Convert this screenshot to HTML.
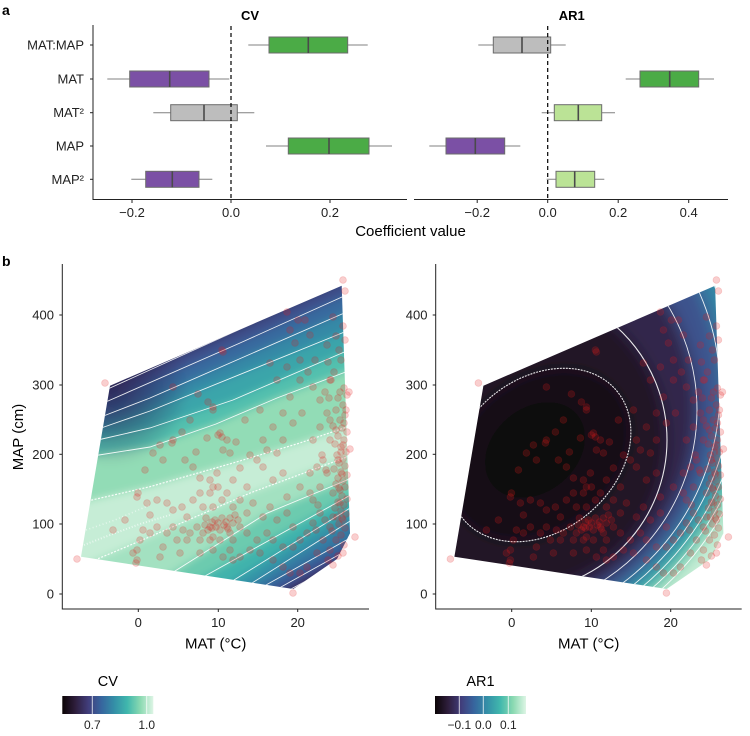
<!DOCTYPE html>
<html><head><meta charset="utf-8">
<style>
html,body{margin:0;padding:0;background:#fff}
svg{display:block}
text{font-family:"Liberation Sans",Arial,sans-serif}
</style></head>
<body>
<svg width="750" height="736" viewBox="0 0 750 736" xmlns="http://www.w3.org/2000/svg" xmlns:xlink="http://www.w3.org/1999/xlink">
<defs>
  <linearGradient id="mako" x1="0" y1="0" x2="1" y2="0">
    <stop offset="0" stop-color="#0B0405"/>
    <stop offset=".1429" stop-color="#2E1E3C"/>
    <stop offset=".2857" stop-color="#413D7B"/>
    <stop offset=".4286" stop-color="#37659E"/>
    <stop offset=".5714" stop-color="#348FA7"/>
    <stop offset=".7143" stop-color="#40B7AD"/>
    <stop offset=".8571" stop-color="#8AD9B1"/>
    <stop offset="1" stop-color="#DEF5E5"/>
  </linearGradient>
  <radialGradient id="tl" cx="110" cy="386" r="80" gradientUnits="userSpaceOnUse">
    <stop offset="0" stop-color="#2a2250" stop-opacity=".8"/>
    <stop offset="1" stop-color="#2a2250" stop-opacity="0"/>
  </radialGradient>
  <clipPath id="cvclip"><polygon points="110,385.7 341.7,285.7 350,533.3 337,559 305,581 293.3,589 81,556.7"/></clipPath>
  <clipPath id="arclip"><polygon points="483.4,385.7 715.1,285.7 723.4,533.3 710.4,559 678.4,581 666.7,589 454.4,556.7"/></clipPath>
  <filter id="bl" x="-10%" y="-10%" width="120%" height="120%"><feGaussianBlur stdDeviation="4"/></filter>
  <filter id="bl2" x="-10%" y="-10%" width="120%" height="120%"><feGaussianBlur stdDeviation="7.5"/></filter>
</defs>
<rect width="750" height="736" fill="#fff"/>

<!-- ===== Panel a ===== -->
<text x="2" y="15" font-size="14" font-weight="bold">a</text>
<text x="250" y="20" font-size="13" font-weight="bold" text-anchor="middle">CV</text>
<text x="571.7" y="20" font-size="13" font-weight="bold" text-anchor="middle">AR1</text>

<g font-size="13" fill="#222" text-anchor="end">
  <text x="84" y="49.5">MAT:MAP</text>
  <text x="84" y="83.5">MAT</text>
  <text x="84" y="117">MAT²</text>
  <text x="84" y="150.5">MAP</text>
  <text x="84" y="184">MAP²</text>
</g>
<g stroke="#222" stroke-width="1">
  <line x1="93" y1="25" x2="93" y2="200"/>
  <line x1="93" y1="199.5" x2="407" y2="199.5"/>
  <line x1="414" y1="199.5" x2="728" y2="199.5"/>
  <line x1="90" y1="45" x2="93" y2="45"/>
  <line x1="90" y1="79" x2="93" y2="79"/>
  <line x1="90" y1="112.7" x2="93" y2="112.7"/>
  <line x1="90" y1="146" x2="93" y2="146"/>
  <line x1="90" y1="179.3" x2="93" y2="179.3"/>
  <line x1="132" y1="199.5" x2="132" y2="203"/>
  <line x1="231" y1="199.5" x2="231" y2="203"/>
  <line x1="330" y1="199.5" x2="330" y2="203"/>
  <line x1="477.2" y1="199.5" x2="477.2" y2="203"/>
  <line x1="547.7" y1="199.5" x2="547.7" y2="203"/>
  <line x1="618.2" y1="199.5" x2="618.2" y2="203"/>
  <line x1="688.7" y1="199.5" x2="688.7" y2="203"/>
</g>
<g font-size="13" fill="#222" text-anchor="middle">
  <text x="132" y="217">−0.2</text>
  <text x="231" y="217">0.0</text>
  <text x="330" y="217">0.2</text>
  <text x="477.2" y="217">−0.2</text>
  <text x="547.7" y="217">0.0</text>
  <text x="618.2" y="217">0.2</text>
  <text x="688.7" y="217">0.4</text>
</g>
<text x="410.5" y="236" font-size="15" text-anchor="middle">Coefficient value</text>

<g stroke="#808080" stroke-width="1">
  <line x1="248.3" y1="45" x2="367.7" y2="45"/>
  <line x1="107.3" y1="79" x2="229.3" y2="79"/>
  <line x1="153.3" y1="112.7" x2="254.3" y2="112.7"/>
  <line x1="266" y1="146" x2="392" y2="146"/>
  <line x1="131.3" y1="179.3" x2="212.3" y2="179.3"/>
  <line x1="478.3" y1="45" x2="565.7" y2="45"/>
  <line x1="625.7" y1="79" x2="714" y2="79"/>
  <line x1="541.7" y1="112.7" x2="615" y2="112.7"/>
  <line x1="429.3" y1="146" x2="520.3" y2="146"/>
  <line x1="546.7" y1="179.3" x2="604.3" y2="179.3"/>
</g>
<g stroke="#6b6b6b" stroke-width="1">
  <rect x="269" y="37" width="78.7" height="16" fill="#4bab46"/>
  <rect x="129.7" y="71" width="79.3" height="16" fill="#7b50a5"/>
  <rect x="170.7" y="104.7" width="66.6" height="16" fill="#bdbdbd"/>
  <rect x="288.3" y="138" width="80.7" height="16" fill="#4bab46"/>
  <rect x="145.7" y="171.3" width="53.3" height="16" fill="#7b50a5"/>
  <rect x="493.3" y="37" width="57.4" height="16" fill="#bdbdbd"/>
  <rect x="640" y="71" width="58.7" height="16" fill="#4bab46"/>
  <rect x="554.3" y="104.7" width="47.4" height="16" fill="#bbe396"/>
  <rect x="446" y="138" width="58.7" height="16" fill="#7b50a5"/>
  <rect x="556" y="171.3" width="38.7" height="16" fill="#bbe396"/>
</g>
<g stroke="#4a4a4a" stroke-width="1.6">
  <line x1="308.3" y1="37" x2="308.3" y2="53"/>
  <line x1="169.7" y1="71" x2="169.7" y2="87"/>
  <line x1="204" y1="104.7" x2="204" y2="120.7"/>
  <line x1="329" y1="138" x2="329" y2="154"/>
  <line x1="172.3" y1="171.3" x2="172.3" y2="187.3"/>
  <line x1="522" y1="37" x2="522" y2="53"/>
  <line x1="669.7" y1="71" x2="669.7" y2="87"/>
  <line x1="578.3" y1="104.7" x2="578.3" y2="120.7"/>
  <line x1="475.3" y1="138" x2="475.3" y2="154"/>
  <line x1="574.7" y1="171.3" x2="574.7" y2="187.3"/>
</g>
<g stroke="#000" stroke-width="1.2" stroke-dasharray="4 3">
  <line x1="231" y1="26" x2="231" y2="199"/>
  <line x1="547.7" y1="26" x2="547.7" y2="199"/>
</g>

<!-- ===== Panel b ===== -->
<text x="2" y="266" font-size="14" font-weight="bold">b</text>

<!-- CV field -->
<g clip-path="url(#cvclip)">
  <g filter="url(#bl)">
    <rect x="30" y="240" width="380" height="400" fill="#353060"/>
    <polygon fill="#3d4f8b" points="40,419.7 110,388 236,331 400,256.9 400,760 40,760"/>
    <polygon fill="#376b9f" points="40,430.9 108,401 240,343 342,297 400,270.8 400,760 40,760"/>
    <polygon fill="#3589a6" points="40,440.5 106,415 150,398 342,314 400,288.6 400,760 40,760"/>
    <polygon fill="#3ba5aa" points="40,449.3 104,427 150,411 342,333 400,309.4 400,760 40,760"/>
    <polygon fill="#52c0ae" points="40,453.2 102,439 150,428 233,400 342,353 400,328 400,760 40,760"/>
    <polygon fill="#92dcb6" points="40,464.3 99,455 150,447 216,424 277,398 343,373 400,351.4 400,760 40,760"/>
    <polygon fill="#c6edd6" points="40,511.9 92,500 150,486.7 233,463 300,443 347,427 400,409 400,760 40,760"/>
    <polygon fill="#a3e1c1" points="40,583.3 95,560 150,536.7 250,493 347,457 400,437.3 400,760 40,760"/>
    <polygon fill="#6ccbaf" points="40,655.9 175,571 266.7,513.3 347,480 400,458 400,760 40,760"/>
    <polygon fill="#3fb3ac" points="40,667.8 205,576 347,497 400,467.5 400,760 40,760"/>
    <polygon fill="#3697a8" points="40,700 234,580 347,510 400,477.2 400,760 40,760"/>
    <polygon fill="#367aa3" points="40,717 252,583 347,523 400,489.5 400,760 40,760"/>
    <polygon fill="#395d97" points="40,711.5 266,585 350,538 400,510 400,760 40,760"/>
    <polygon fill="#40417e" points="40,721 281,587 342,553 400,520.7 400,760 40,760"/>
    <polygon fill="#33264c" points="40,724 291,589 330,568 400,530 400,760 40,760"/>
    <circle cx="110" cy="386" r="80" fill="url(#tl)"/>
  </g>
  <g fill="none" stroke="#fff" stroke-width="0.9" stroke-opacity=".9">
    <polyline points="40,419.7 110,388 236,331 400,256.9"/>
    <polyline points="40,430.9 108,401 240,343 342,297 400,270.8"/>
    <polyline points="40,440.5 106,415 150,398 342,314 400,288.6"/>
    <polyline points="40,449.3 104,427 150,411 342,333 400,309.4"/>
    <polyline points="40,453.2 102,439 150,428 233,400 342,353 400,328"/>
    <polyline points="40,464.3 99,455 150,447 216,424 277,398 343,373 400,351.4"/>
    <polyline points="40,511.9 92,500 150,486.7 233,463 300,443 347,427 400,409" stroke-dasharray="2 1.5" stroke-width="1.2"/>
    <polyline points="40,583.3 95,560 150,536.7 250,493 347,457 400,437.3" stroke-dasharray="2 1.5" stroke-width="1.2"/>
    <polyline points="40,655.9 175,571 266.7,513.3 347,480 400,458"/>
    <polyline points="40,667.8 205,576 347,497 400,467.5"/>
    <polyline points="40,700 234,580 347,510 400,477.2"/>
    <polyline points="40,717 252,583 347,523 400,489.5"/>
    <polyline points="40,711.5 266,585 350,538 400,510"/>
    <polyline points="40,721 281,587 342,553 400,520.7"/>
    <polyline points="40,724 291,589 330,568 400,530"/>
    <polyline points="84,545 110,535 140,524 170,515" stroke-dasharray="1 2" stroke-width="2" stroke-opacity=".6"/>
    <polyline points="86,530 115,520 150,505" stroke-dasharray="1 2.5" stroke-width="1.6" stroke-opacity=".5"/>
  </g>
</g>

<!-- AR1 field -->
<g clip-path="url(#arclip)">
  <g filter="url(#bl2)">
    <rect x="420" y="240" width="330" height="400" fill="#c6edd6"/>
    <circle cx="448" cy="355" r="317" fill="#82d5b1"/>
    <circle cx="455" cy="362" r="300" fill="#40b8ad"/>
    <circle cx="462" cy="370" r="282" fill="#3697a8"/>
    <circle cx="470" cy="380" r="262" fill="#367aa3"/>
    <circle cx="480" cy="390" r="240" fill="#3c528d"/>
    <circle cx="495" cy="410" r="202" fill="#33264c"/>
    <circle cx="515" cy="440" r="152" fill="#211428"/>
    <ellipse cx="540" cy="455" rx="100" ry="76" transform="rotate(-40 540 455)" fill="#150b16"/>
    <ellipse cx="535" cy="450" rx="55" ry="42" transform="rotate(-40 535 450)" fill="#0e070c"/>
  </g>
  <g fill="none" stroke="#fff" stroke-width="0.9" stroke-opacity=".9">
    <circle cx="448" cy="355" r="317"/>
    <circle cx="455" cy="362" r="300"/>
    <circle cx="462" cy="370" r="282"/>
    <circle cx="470" cy="380" r="262"/>
    <circle cx="480" cy="390" r="240"/>
    <circle cx="495" cy="410" r="202"/>
    <circle cx="515" cy="440" r="152" stroke-width="1.1"/>
    <ellipse cx="540" cy="455" rx="100" ry="76" transform="rotate(-40 540 455)" stroke-width="1.1" stroke-dasharray="2 1"/>
  </g>
</g>

<!-- points -->
<g id="pts" fill="#e31a1c" fill-opacity=".21" stroke="#e31a1c" stroke-opacity=".18" stroke-width=".8">
<circle cx="340" cy="392" r="3.4"/><circle cx="338" cy="398" r="3.4"/><circle cx="343" cy="405" r="3.4"/><circle cx="336" cy="410" r="3.4"/><circle cx="345" cy="415" r="3.4"/><circle cx="340" cy="420" r="3.4"/><circle cx="333" cy="426" r="3.4"/><circle cx="342" cy="428" r="3.4"/><circle cx="347" cy="432" r="3.4"/><circle cx="338" cy="436" r="3.4"/><circle cx="344" cy="440" r="3.4"/><circle cx="335" cy="444" r="3.4"/><circle cx="341" cy="447" r="3.4"/><circle cx="346" cy="452" r="3.4"/><circle cx="337" cy="455" r="3.4"/><circle cx="343" cy="459" r="3.4"/><circle cx="339" cy="463" r="3.4"/><circle cx="345" cy="466" r="3.4"/><circle cx="334" cy="469" r="3.4"/><circle cx="341" cy="472" r="3.4"/><circle cx="347" cy="475" r="3.4"/><circle cx="338" cy="478" r="3.4"/><circle cx="343" cy="481" r="3.4"/><circle cx="336" cy="484" r="3.4"/><circle cx="345" cy="487" r="3.4"/><circle cx="340" cy="490" r="3.4"/><circle cx="333" cy="493" r="3.4"/><circle cx="342" cy="496" r="3.4"/><circle cx="347" cy="499" r="3.4"/><circle cx="338" cy="502" r="3.4"/><circle cx="344" cy="505" r="3.4"/><circle cx="335" cy="508" r="3.4"/><circle cx="341" cy="511" r="3.4"/><circle cx="346" cy="514" r="3.4"/><circle cx="337" cy="517" r="3.4"/><circle cx="343" cy="520" r="3.4"/><circle cx="339" cy="524" r="3.4"/><circle cx="345" cy="528" r="3.4"/><circle cx="332" cy="531" r="3.4"/><circle cx="341" cy="535" r="3.4"/><circle cx="336" cy="540" r="3.4"/><circle cx="344" cy="545" r="3.4"/><circle cx="330" cy="550" r="3.4"/><circle cx="338" cy="556" r="3.4"/><circle cx="328" cy="560" r="3.4"/><circle cx="342" cy="518" r="3.4"/><circle cx="340" cy="503" r="3.4"/><circle cx="339" cy="488" r="3.4"/><circle cx="342" cy="474" r="3.4"/><circle cx="338" cy="460" r="3.4"/><circle cx="341" cy="452" r="3.4"/><circle cx="343" cy="445" r="3.4"/><circle cx="336" cy="430" r="3.4"/><circle cx="344" cy="423" r="3.4"/><circle cx="326" cy="470" r="3.4"/><circle cx="322" cy="455" r="3.4"/><circle cx="318" cy="505" r="3.4"/><circle cx="325" cy="520" r="3.4"/><circle cx="316" cy="530" r="3.4"/><circle cx="329" cy="398" r="3.4"/><circle cx="330" cy="420" r="3.4"/><circle cx="331" cy="380" r="3.4"/><circle cx="334" cy="372" r="3.4"/><circle cx="328" cy="362" r="3.4"/><circle cx="341" cy="360" r="3.4"/><circle cx="345" cy="340" r="3.4"/><circle cx="339" cy="350" r="3.4"/><circle cx="327" cy="345" r="3.4"/><circle cx="336" cy="336" r="3.4"/><circle cx="343" cy="326" r="3.4"/><circle cx="333" cy="317" r="3.4"/><circle cx="347" cy="395" r="3.4"/><circle cx="346" cy="410" r="3.4"/><circle cx="344" cy="388" r="3.4"/>
<circle cx="343" cy="280" r="3.4"/><circle cx="345" cy="291" r="3.4"/><circle cx="105" cy="383" r="3.4"/><circle cx="77" cy="559" r="3.4"/><circle cx="355" cy="537" r="3.4"/><circle cx="343" cy="553" r="3.4"/><circle cx="333" cy="565" r="3.4"/><circle cx="293" cy="593" r="3.4"/><circle cx="136" cy="563" r="3.4"/><circle cx="350" cy="449" r="3.4"/><circle cx="349" cy="392" r="3.4"/>
<circle cx="173" cy="387" r="3.4"/><circle cx="198" cy="394" r="3.4"/><circle cx="208" cy="402" r="3.4"/><circle cx="213" cy="410" r="3.4"/><circle cx="222" cy="350" r="3.4"/><circle cx="270" cy="363" r="3.4"/><circle cx="287" cy="312" r="3.4"/><circle cx="290" cy="330" r="3.4"/><circle cx="295" cy="343" r="3.4"/><circle cx="300" cy="360" r="3.4"/><circle cx="287" cy="367" r="3.4"/><circle cx="300" cy="380" r="3.4"/><circle cx="290" cy="397" r="3.4"/><circle cx="277" cy="380" r="3.4"/><circle cx="293" cy="423" r="3.4"/><circle cx="302" cy="413" r="3.4"/><circle cx="283" cy="413" r="3.4"/><circle cx="273" cy="427" r="3.4"/><circle cx="283" cy="440" r="3.4"/><circle cx="267" cy="450" r="3.4"/><circle cx="277" cy="453" r="3.4"/><circle cx="263" cy="440" r="3.4"/><circle cx="257" cy="460" r="3.4"/><circle cx="173" cy="440" r="3.4"/><circle cx="182" cy="432" r="3.4"/><circle cx="172" cy="443" r="3.4"/><circle cx="163" cy="460" r="3.4"/><circle cx="185" cy="460" r="3.4"/><circle cx="193" cy="467" r="3.4"/><circle cx="218" cy="435" r="3.4"/><circle cx="222" cy="437" r="3.4"/><circle cx="227" cy="440" r="3.4"/><circle cx="223" cy="450" r="3.4"/><circle cx="230" cy="453" r="3.4"/><circle cx="220" cy="433" r="3.4"/><circle cx="207" cy="438" r="3.4"/><circle cx="217" cy="473" r="3.4"/><circle cx="210" cy="480" r="3.4"/><circle cx="200" cy="478" r="3.4"/><circle cx="213" cy="487" r="3.4"/><circle cx="233" cy="480" r="3.4"/><circle cx="247" cy="487" r="3.4"/><circle cx="263" cy="467" r="3.4"/><circle cx="273" cy="480" r="3.4"/><circle cx="283" cy="473" r="3.4"/><circle cx="287" cy="497" r="3.4"/><circle cx="300" cy="487" r="3.4"/><circle cx="310" cy="473" r="3.4"/><circle cx="313" cy="500" r="3.4"/><circle cx="223" cy="352" r="3.4"/><circle cx="213" cy="407" r="3.4"/><circle cx="305" cy="320" r="3.4"/><circle cx="310" cy="335" r="3.4"/><circle cx="298" cy="320" r="3.4"/><circle cx="315" cy="360" r="3.4"/><circle cx="308" cy="372" r="3.4"/><circle cx="260" cy="410" r="3.4"/><circle cx="245" cy="420" r="3.4"/><circle cx="250" cy="455" r="3.4"/><circle cx="240" cy="468" r="3.4"/><circle cx="153" cy="453" r="3.4"/><circle cx="160" cy="445" r="3.4"/><circle cx="113" cy="530" r="3.4"/><circle cx="125" cy="520" r="3.4"/><circle cx="137" cy="497" r="3.4"/><circle cx="150" cy="515" r="3.4"/><circle cx="145" cy="470" r="3.4"/><circle cx="190" cy="420" r="3.4"/><circle cx="196" cy="452" r="3.4"/><circle cx="236" cy="442" r="3.4"/>
<circle cx="138" cy="493" r="3.4"/><circle cx="147" cy="503" r="3.4"/><circle cx="157" cy="500" r="3.4"/><circle cx="167" cy="503" r="3.4"/><circle cx="173" cy="510" r="3.4"/><circle cx="182" cy="507" r="3.4"/><circle cx="187" cy="517" r="3.4"/><circle cx="193" cy="500" r="3.4"/><circle cx="200" cy="493" r="3.4"/><circle cx="203" cy="507" r="3.4"/><circle cx="210" cy="493" r="3.4"/><circle cx="213" cy="507" r="3.4"/><circle cx="218" cy="487" r="3.4"/><circle cx="222" cy="500" r="3.4"/><circle cx="227" cy="493" r="3.4"/><circle cx="233" cy="507" r="3.4"/><circle cx="240" cy="500" r="3.4"/><circle cx="247" cy="513" r="3.4"/><circle cx="253" cy="503" r="3.4"/><circle cx="263" cy="517" r="3.4"/><circle cx="270" cy="507" r="3.4"/><circle cx="277" cy="520" r="3.4"/><circle cx="287" cy="513" r="3.4"/><circle cx="293" cy="527" r="3.4"/><circle cx="173" cy="527" r="3.4"/><circle cx="183" cy="530" r="3.4"/><circle cx="190" cy="533" r="3.4"/><circle cx="197" cy="527" r="3.4"/><circle cx="203" cy="533" r="3.4"/><circle cx="210" cy="527" r="3.4"/><circle cx="213" cy="537" r="3.4"/><circle cx="220" cy="530" r="3.4"/><circle cx="227" cy="527" r="3.4"/><circle cx="233" cy="523" r="3.4"/><circle cx="240" cy="527" r="3.4"/><circle cx="230" cy="533" r="3.4"/><circle cx="200" cy="540" r="3.4"/><circle cx="210" cy="540" r="3.4"/><circle cx="220" cy="540" r="3.4"/><circle cx="233" cy="540" r="3.4"/><circle cx="247" cy="533" r="3.4"/><circle cx="257" cy="540" r="3.4"/><circle cx="267" cy="533" r="3.4"/><circle cx="273" cy="540" r="3.4"/><circle cx="283" cy="547" r="3.4"/><circle cx="260" cy="553" r="3.4"/><circle cx="250" cy="550" r="3.4"/><circle cx="240" cy="557" r="3.4"/><circle cx="230" cy="550" r="3.4"/><circle cx="187" cy="540" r="3.4"/><circle cx="177" cy="540" r="3.4"/><circle cx="167" cy="533" r="3.4"/><circle cx="163" cy="547" r="3.4"/><circle cx="160" cy="557" r="3.4"/><circle cx="137" cy="550" r="3.4"/><circle cx="140" cy="540" r="3.4"/><circle cx="143" cy="530" r="3.4"/><circle cx="150" cy="533" r="3.4"/><circle cx="157" cy="527" r="3.4"/><circle cx="133" cy="553" r="3.4"/><circle cx="137" cy="560" r="3.4"/><circle cx="180" cy="553" r="3.4"/><circle cx="200" cy="553" r="3.4"/><circle cx="213" cy="550" r="3.4"/><circle cx="223" cy="557" r="3.4"/><circle cx="233" cy="560" r="3.4"/><circle cx="283" cy="567" r="3.4"/><circle cx="290" cy="573" r="3.4"/><circle cx="273" cy="560" r="3.4"/><circle cx="300" cy="573" r="3.4"/><circle cx="307" cy="567" r="3.4"/><circle cx="317" cy="553" r="3.4"/><circle cx="323" cy="540" r="3.4"/><circle cx="330" cy="527" r="3.4"/><circle cx="333" cy="517" r="3.4"/><circle cx="320" cy="513" r="3.4"/><circle cx="313" cy="523" r="3.4"/><circle cx="307" cy="533" r="3.4"/><circle cx="300" cy="540" r="3.4"/><circle cx="293" cy="547" r="3.4"/><circle cx="310" cy="493" r="3.4"/><circle cx="320" cy="487" r="3.4"/><circle cx="327" cy="473" r="3.4"/><circle cx="317" cy="467" r="3.4"/><circle cx="323" cy="460" r="3.4"/><circle cx="320" cy="427" r="3.4"/><circle cx="313" cy="440" r="3.4"/><circle cx="330" cy="440" r="3.4"/><circle cx="327" cy="413" r="3.4"/><circle cx="320" cy="400" r="3.4"/><circle cx="313" cy="387" r="3.4"/><circle cx="330" cy="380" r="3.4"/><circle cx="325" cy="392" r="3.4"/><circle cx="215" cy="520" r="3.4"/><circle cx="218" cy="523" r="3.4"/><circle cx="222" cy="518" r="3.4"/><circle cx="226" cy="522" r="3.4"/><circle cx="230" cy="518" r="3.4"/><circle cx="205" cy="525" r="3.4"/><circle cx="208" cy="530" r="3.4"/><circle cx="212" cy="528" r="3.4"/><circle cx="235" cy="515" r="3.4"/><circle cx="238" cy="520" r="3.4"/><circle cx="212" cy="522" r="3.4"/><circle cx="216" cy="527" r="3.4"/><circle cx="224" cy="525" r="3.4"/><circle cx="228" cy="529" r="3.4"/><circle cx="206" cy="518" r="3.4"/>
</g>
<use xlink:href="#pts" href="#pts" transform="translate(373.4,0)"/>

<!-- axes panel b -->
<g stroke="#222" stroke-width="1">
  <line x1="62.3" y1="264" x2="62.3" y2="609.5"/>
  <line x1="62.3" y1="609" x2="369" y2="609"/>
  <line x1="435.7" y1="264" x2="435.7" y2="609.5"/>
  <line x1="435.7" y1="609" x2="741.7" y2="609"/>
  <line x1="59.3" y1="315" x2="62.3" y2="315"/>
  <line x1="59.3" y1="385" x2="62.3" y2="385"/>
  <line x1="59.3" y1="454.3" x2="62.3" y2="454.3"/>
  <line x1="59.3" y1="524" x2="62.3" y2="524"/>
  <line x1="59.3" y1="594" x2="62.3" y2="594"/>
  <line x1="432.7" y1="315" x2="435.7" y2="315"/>
  <line x1="432.7" y1="385" x2="435.7" y2="385"/>
  <line x1="432.7" y1="454.3" x2="435.7" y2="454.3"/>
  <line x1="432.7" y1="524" x2="435.7" y2="524"/>
  <line x1="432.7" y1="594" x2="435.7" y2="594"/>
  <line x1="138.3" y1="609" x2="138.3" y2="612"/>
  <line x1="218.3" y1="609" x2="218.3" y2="612"/>
  <line x1="297.7" y1="609" x2="297.7" y2="612"/>
  <line x1="511.7" y1="609" x2="511.7" y2="612"/>
  <line x1="591.3" y1="609" x2="591.3" y2="612"/>
  <line x1="670.7" y1="609" x2="670.7" y2="612"/>
</g>
<g font-size="13" fill="#222" text-anchor="end">
  <text x="54" y="319.5">400</text>
  <text x="54" y="389.5">300</text>
  <text x="54" y="459">200</text>
  <text x="54" y="528.5">100</text>
  <text x="54" y="598.5">0</text>
  <text x="427.5" y="319.5">400</text>
  <text x="427.5" y="389.5">300</text>
  <text x="427.5" y="459">200</text>
  <text x="427.5" y="528.5">100</text>
  <text x="427.5" y="598.5">0</text>
</g>
<g font-size="13" fill="#222" text-anchor="middle">
  <text x="138.3" y="627">0</text>
  <text x="218.3" y="627">10</text>
  <text x="297.7" y="627">20</text>
  <text x="511.7" y="627">0</text>
  <text x="591.3" y="627">10</text>
  <text x="670.7" y="627">20</text>
</g>
<g font-size="15" text-anchor="middle">
  <text x="215.7" y="648.5">MAT (°C)</text>
  <text x="588.7" y="648.5">MAT (°C)</text>
  <text transform="translate(23,437) rotate(-90)">MAP (cm)</text>
</g>

<!-- legends -->
<text x="107.8" y="686" font-size="14.5" text-anchor="middle">CV</text>
<rect x="62.3" y="696" width="91" height="18" fill="url(#mako)"/>
<g stroke="#fff" stroke-width="1" stroke-opacity=".75">
  <line x1="92.3" y1="696" x2="92.3" y2="714"/>
  <line x1="146.7" y1="696" x2="146.7" y2="714"/>
</g>
<text x="480.5" y="686" font-size="14.5" text-anchor="middle">AR1</text>
<rect x="435" y="696" width="91" height="18" fill="url(#mako)"/>
<g stroke="#fff" stroke-width="1" stroke-opacity=".75">
  <line x1="459.3" y1="696" x2="459.3" y2="714"/>
  <line x1="483.3" y1="696" x2="483.3" y2="714"/>
  <line x1="508.3" y1="696" x2="508.3" y2="714"/>
</g>
<g font-size="12" fill="#222" text-anchor="middle">
  <text x="92.3" y="729">0.7</text>
  <text x="146.7" y="729">1.0</text>
  <text x="459.3" y="729">−0.1</text>
  <text x="483.3" y="729">0.0</text>
  <text x="508.3" y="729">0.1</text>
</g>
</svg>
</body></html>
